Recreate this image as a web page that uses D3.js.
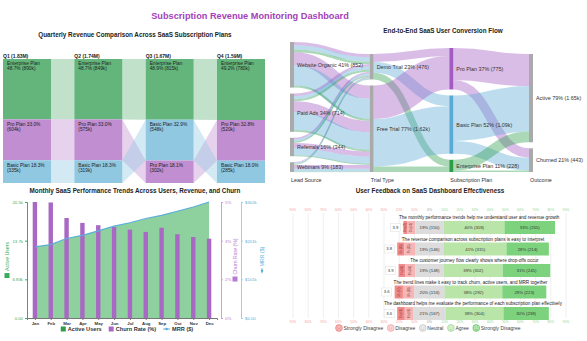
<!DOCTYPE html>
<html>
<head>
<meta charset="utf-8">
<script src="https://cdn.jsdelivr.net/npm/d3@7"></script>
<style>
body { margin: 0; background: #fff; }
svg text { font-family: "Liberation Sans", Arial, sans-serif; }
</style>
</head>
<body>
<script>
// ---- quarterly revenue ($k) ----
const quarters = ["Q1", "Q2", "Q3", "Q4"];
const plans = ["Enterprise Plan", "Pro Plan", "Basic Plan"];
const enterpriseRevenue = [890, 849, 815, 780];
const proRevenue = [604, 575, 302, 520];
const basicRevenue = [335, 319, 548, 285];

// ---- monthly trends ----
const months = ["Jan", "Feb", "Mar", "Apr", "May", "Jun", "Jul", "Aug", "Sep", "Oct", "Nov", "Dec"];
const activeUsers = [12550, 12960, 14020, 14620, 15380, 16200, 16850, 17550, 18140, 18900, 19620, 20500];
const churnRate = [5.0, 4.98, 4.31, 4.1, 4.0, 3.92, 3.81, 3.71, 3.89, 3.61, 3.49, 3.42];
const mrr = [185, 191, 207, 215, 227, 239, 248, 259, 267, 278, 289, 302]; // $k

// ---- conversion flow ----
const stageNames = ["Lead Source", "Trial Type", "Subscription Plan", "Outcome"];
const leadSources = ["Website Organic", "Paid Ads", "Referrals", "Webinars"];
const trialTypes = ["Demo Trial", "Free Trial"];
const subscriptionPlans = ["Pro Plan", "Basic Plan", "Enterprise Plan"];
const outcomes = ["Active", "Churned"];
// [lead][trial][plan]
const leadTrialFlows = [
  [[60, 80, 50], [250, 372, 40]],
  [[45, 60, 36], [210, 330, 33]],
  [[30, 40, 25], [95, 135, 19]],
  [[15, 20, 15], [70, 53, 10]]
];
// [trial][plan]
const trialPlanFlows = [[150, 200, 126], [625, 890, 102]];
// [plan][outcome]
const planOutcomeFlows = [[600, 175], [850, 240], [200, 28]];

// ---- feedback survey ----
const likertQuestions = [
  "The monthly performance trends help me understand user and revenue growth",
  "The revenue comparison across subscription plans is easy to interpret",
  "The customer journey flow clearly shows where drop-offs occur",
  "The trend lines make it easy to track churn, active users, and MRR together",
  "The dashboard helps me evaluate the performance of each subscription plan effectively"
];
const stronglyDisagree = [22, 35, 35, 42, 40];
const disagree = [40, 55, 50, 58, 46];
const neutral = [150, 146, 148, 153, 167];
const agree = [318, 315, 302, 292, 304];
const stronglyAgree = [265, 214, 245, 223, 238];
const meanScores = [3.9, 3.8, 3.9, 3.6, 3.6];
const likertLegend = ["Strongly Disagree", "Disagree", "Neutral", "Agree", "Strongly Disagree"];

const svg = d3.select("body").append("svg")
    .attr("width", 587)
    .attr("height", 341)
    .style("display", "block");

svg.append("text")
    .attr("x", 250).attr("y", 19)
    .attr("text-anchor", "middle")
    .attr("font-size", 9.2).attr("font-weight", "bold")
    .attr("fill", "#a43fb8")
    .text("Subscription Revenue Monitoring Dashboard");

function panelTitle(x, y, txt) {
  svg.append("text").attr("x", x).attr("y", y)
      .attr("text-anchor", "middle").attr("dy", "0.35em")
      .attr("font-size", 6.3).attr("font-weight", "bold").attr("fill", "#222")
      .text(txt);
}

// =============== quarterly ribbon chart ===============
panelTitle(135, 35, "Quarterly Revenue Comparison Across SaaS Subscription Plans");

var revenueByPlan = {"Enterprise Plan": enterpriseRevenue, "Pro Plan": proRevenue, "Basic Plan": basicRevenue};
var planColor = d3.scaleOrdinal().domain(plans).range(["#63b57c", "#c08ed1", "#90c8e1"]);
var qx = d3.scaleBand().domain(quarters).range([3, 265]).paddingInner(0.327);
var qy = d3.scaleLinear().domain([0, 1]).range([59, 183]);

var qCols = quarters.map(function(q, i) {
  var total = d3.sum(plans, p => revenueByPlan[p][i]);
  var segs = plans.map(p => ({plan: p, value: revenueByPlan[p][i]}))
      .sort((a, b) => b.value - a.value);
  var acc = 0;
  segs.forEach(s => {
    s.y0 = qy(acc / total); acc += s.value; s.y1 = qy(acc / total); s.share = s.value / total;
  });
  return {q: q, total: total, segs: segs, x0: qx(q), x1: qx(q) + qx.bandwidth()};
});

var qg = svg.append("g");
for (let i = 0; i < qCols.length - 1; i++) {
  let c = qCols[i], n = qCols[i + 1];
  plans.forEach(p => {
    let a = c.segs.find(s => s.plan === p), b = n.segs.find(s => s.plan === p);
    qg.append("path")
        .attr("d", d3.line()([[c.x1, a.y0], [n.x0, b.y0], [n.x0, b.y1], [c.x1, a.y1]]) + "Z")
        .attr("fill", planColor(p)).attr("fill-opacity", 0.4);
  });
}

var fmtM = v => d3.format(".3s")(v * 1000);
qCols.forEach(c => {
  qg.append("text").attr("x", c.x0).attr("y", 57.5)
      .attr("font-size", 5).attr("font-weight", "bold").attr("fill", "#222")
      .text(`${c.q} (${fmtM(c.total)})`);
  c.segs.forEach(s => {
    qg.append("rect").attr("x", c.x0).attr("y", s.y0)
        .attr("width", c.x1 - c.x0).attr("height", s.y1 - s.y0)
        .attr("fill", planColor(s.plan));
    var words = `${s.plan} ${(s.share * 100).toFixed(1)}% (${s.value}k)`.split(" ");
    var lines = [], cur = "";
    var t = qg.append("text").attr("font-size", 4.8).attr("fill", "#222");
    words.forEach(w => {
      var trial = cur ? cur + " " + w : w;
      t.text(trial);
      if (cur && t.node().getComputedTextLength() > 41) { lines.push(cur); cur = w; }
      else cur = trial;
    });
    lines.push(cur);
    t.text(null);
    lines.forEach((l, k) => {
      t.append("tspan").attr("x", c.x0 + 4).attr("y", s.y0 + 6.3 + k * 5).text(l);
    });
  });
});

// =============== monthly trends ===============
panelTitle(135, 191, "Monthly SaaS Performance Trends Across Users, Revenue, and Churn");

var green = "#3aaa5c", purple = "#b77ccf", blue = "#5aaed8";
var mx = d3.scalePoint().domain(months).range([27, 217]).padding(0.5);
var yUsers = d3.scaleLinear().domain([0, d3.max(activeUsers)]).range([318, 202]);
var yChurn = d3.scaleLinear().domain([0, d3.max(churnRate)]).range([318, 202]);
var yMrr = d3.scaleLinear().domain([0, d3.max(mrr)]).range([318, 202]);
var mg = svg.append("g");

mg.append("path")
    .datum(months)
    .attr("d", d3.area().x(m => mx(m)).y0(318).y1((m, i) => yUsers(activeUsers[i])))
    .attr("fill", "#8fd19e");

mg.selectAll(".bar").data(months).enter().append("rect")
    .attr("x", m => mx(m) - 2.2).attr("width", 4.4)
    .attr("y", (m, i) => yChurn(churnRate[i]))
    .attr("height", (m, i) => 318 - yChurn(churnRate[i]))
    .attr("fill", "#a868c3");

mg.append("path")
    .datum(months)
    .attr("d", d3.line().x(m => mx(m)).y((m, i) => yMrr(mrr[i])))
    .attr("fill", "none").attr("stroke", blue).attr("stroke-width", 1.2);

function styleAxis(sel, col, txtCol) {
  sel.selectAll("path,line").attr("stroke", col);
  sel.selectAll("text").attr("fill", txtCol || col).attr("font-size", 4.3);
}
var thirds = s => [0, 1, 2, 3].map(k => s.domain()[1] * k / 3);
mg.append("g").attr("transform", "translate(27,0)")
    .call(d3.axisLeft(yUsers).tickValues(thirds(yUsers)).tickFormat(d3.format(".3s")).tickSize(2).tickPadding(2))
    .call(styleAxis, green);
mg.append("g").attr("transform", "translate(221,0)")
    .call(d3.axisRight(yChurn).tickValues(thirds(yChurn)).tickFormat(v => d3.format(".0%")(v / 100)).tickSize(2).tickPadding(2))
    .call(styleAxis, "#c9a3da", purple);
mg.append("g").attr("transform", "translate(241,0)")
    .call(d3.axisRight(yMrr).tickValues(thirds(yMrr)).tickFormat(v => "$" + d3.format(".3s")(v * 1000)).tickSize(2).tickPadding(2))
    .call(styleAxis, "#9fd0ea", blue);
var xAx = mg.append("g").attr("transform", "translate(0,318)")
    .call(d3.axisBottom(mx).tickSize(2).tickPadding(1.5));
xAx.selectAll("path,line").attr("stroke", "#777");
xAx.selectAll("text").attr("font-size", 4.3).attr("font-weight", "bold").attr("fill", "#333");

function axisTitle(x, label, col, icon) {
  var g = mg.append("g").attr("transform", `translate(${x},260) rotate(-90)`);
  var t = g.append("text").attr("font-size", 5.2).attr("fill", col).attr("dy", "0.35em").text(label);
  var w = t.node().getComputedTextLength() + 7;
  t.attr("x", -w / 2 + 7);
  if (icon === "line") {
    g.append("line").attr("x1", -w / 2).attr("x2", -w / 2 + 5).attr("stroke", col).attr("stroke-width", 1);
    g.append("circle").attr("cx", -w / 2 + 2.5).attr("r", 1.2).attr("fill", col);
  } else {
    g.append("rect").attr("x", -w / 2).attr("y", -2.5).attr("width", 5).attr("height", 5).attr("fill", col);
  }
}
axisTitle(7, "Active Users", green, "rect");
axisTitle(235, "Churn Rate (%)", purple, "rect");
axisTitle(262, "MRR ($)", blue, "line");

var legItems = [["Active Users", "#2e9d4a", "rect"], ["Churn Rate (%)", "#a868c3", "rect"], ["MRR ($)", blue, "line"]];
var lg = mg.append("g");
var lxPos = 0;
legItems.forEach(it => {
  var gi = lg.append("g").attr("transform", `translate(${lxPos},0)`);
  if (it[2] === "rect") gi.append("rect").attr("y", -2.5).attr("width", 5).attr("height", 5).attr("fill", it[1]);
  else {
    gi.append("line").attr("x2", 7).attr("stroke", it[1]).attr("stroke-width", 1);
    gi.append("circle").attr("cx", 3.5).attr("r", 1.3).attr("fill", it[1]);
  }
  var t = gi.append("text").attr("x", it[2] === "rect" ? 7 : 9).attr("dy", "0.35em")
      .attr("font-size", 5.6).attr("font-weight", "bold").attr("fill", "#333").text(it[0]);
  lxPos += (it[2] === "rect" ? 7 : 9) + t.node().getComputedTextLength() + 7;
});
lg.attr("transform", `translate(${127 - (lxPos - 7) / 2},329)`);

// =============== conversion sankey ===============
panelTitle(443, 31, "End-to-End SaaS User Conversion Flow");

var flowColor = ["#a35bc4", "#5aa9d6", "#2e9d4a"];
var sx = d3.scalePoint().domain(stageNames).range([290, 529]);
var nodeW = 4, sTop = 42, sBottom = 172, sPad = 6;
var columns = [
  {names: leadSources, values: leadSources.map((_, i) => d3.sum(leadTrialFlows[i].flat()))},
  {names: trialTypes, values: trialTypes.map((_, j) => d3.sum(trialPlanFlows[j]))},
  {names: subscriptionPlans, values: subscriptionPlans.map((_, k) => d3.sum(planOutcomeFlows[k]))},
  {names: outcomes, values: outcomes.map((_, m) => d3.sum(planOutcomeFlows, r => r[m]))}
];
var ky = d3.min(columns, c => (sBottom - sTop - (c.names.length - 1) * sPad) / d3.sum(c.values));
var nodes = columns.map((c, ci) => {
  var total = d3.sum(c.values);
  var y = sBottom - (total * ky + (c.names.length - 1) * sPad);
  return c.names.map((nm, ni) => {
    var nd = {name: nm, col: ci, idx: ni, value: c.values[ni], share: c.values[ni] / total,
      x0: sx(stageNames[ci]), y0: y, y1: y + c.values[ni] * ky};
    nd.x1 = nd.x0 + nodeW;
    y = nd.y1 + sPad;
    return nd;
  });
});

var links = [];
leadTrialFlows.forEach((row, i) => row.forEach((pl, j) => pl.forEach((v, k) =>
  links.push({s: nodes[0][i], t: nodes[1][j], plan: k, value: v}))));
trialPlanFlows.forEach((row, j) => row.forEach((v, k) =>
  links.push({s: nodes[1][j], t: nodes[2][k], plan: k, value: v})));
planOutcomeFlows.forEach((row, k) => row.forEach((v, m) =>
  links.push({s: nodes[2][k], t: nodes[3][m], plan: k, value: v})));

nodes.flat().forEach(nd => {
  var outs = links.filter(l => l.s === nd).sort((a, b) => a.t.idx - b.t.idx || a.plan - b.plan);
  var off = nd.y0;
  outs.forEach(l => { l.w = l.value * ky; l.sy = off + l.w / 2; off += l.w; });
  var ins = links.filter(l => l.t === nd).sort((a, b) => a.s.idx - b.s.idx || a.plan - b.plan);
  off = nd.y0;
  ins.forEach(l => { l.ty = off + l.value * ky / 2; off += l.value * ky; });
});

var sg = svg.append("g");
sg.append("g").selectAll("path").data(links).enter().append("path")
    .attr("d", d3.linkHorizontal().source(l => [l.s.x1, l.sy]).target(l => [l.t.x0, l.ty]))
    .attr("fill", "none")
    .attr("stroke", l => flowColor[l.plan])
    .attr("stroke-opacity", 0.4)
    .attr("stroke-width", l => Math.max(0.5, l.w));

sg.append("g").selectAll("rect").data(nodes.flat()).enter().append("rect")
    .attr("x", d => d.x0).attr("y", d => d.y0)
    .attr("width", nodeW).attr("height", d => d.y1 - d.y0)
    .attr("fill", d => d.col === 2 ? flowColor[d.idx] : "#aaa");

var fmtCount = v => v >= 1000 ? d3.format(".3s")(v) : String(v);
sg.append("g").selectAll("text").data(nodes.flat()).enter().append("text")
    .attr("x", d => d.x1 + 3).attr("y", d => (d.y0 + d.y1) / 2).attr("dy", "0.35em")
    .attr("font-size", 5.4).attr("fill", "#333")
    .text(d => `${d.name} ${d3.format(".0%")(d.share)} (${fmtCount(d.value)})`);

sg.append("g").selectAll("text").data(stageNames).enter().append("text")
    .attr("x", d => sx(d) + 1).attr("y", 182)
    .attr("font-size", 5.4).attr("fill", "#333")
    .text(d => d);

// =============== feedback likert ===============
panelTitle(430, 191, "User Feedback on SaaS Dashboard Effectiveness");

var likertColors = ["#f28b8b", "#f6b6b6", "#dcdcdc", "#b9e6a8", "#7dd37d"];
var lx = d3.scaleLinear().domain([-0.9, 0.9]).range([293, 566]);
var ly = d3.scaleBand().domain(d3.range(likertQuestions.length)).range([214, 321.5]);
var fg = svg.append("g");
var gridVals = d3.range(-9, 10).map(v => v / 10);
var tickCol = v => v < 0 ? "#f4a3a3" : v > 0 ? "#93d993" : "#999";
fg.append("g").selectAll("line").data(gridVals).enter().append("line")
    .attr("x1", v => lx(v)).attr("x2", v => lx(v)).attr("y1", 213).attr("y2", 318)
    .attr("stroke", "#ebebeb").attr("stroke-width", 0.8);
[210, 322].forEach(yy => {
  fg.append("g").selectAll("text").data(gridVals).enter().append("text")
      .attr("x", v => lx(v)).attr("y", yy).attr("dy", "0.35em")
      .attr("text-anchor", "middle").attr("font-size", 3.4).attr("fill", tickCol)
      .text(v => Math.round(Math.abs(v) * 100) + "%");
});

likertQuestions.forEach((q, i) => {
  var counts = [stronglyDisagree[i], disagree[i], neutral[i], agree[i], stronglyAgree[i]];
  var total = d3.sum(counts);
  var shares = counts.map(c => c / total);
  var start = -(shares[0] + shares[1] + shares[2] / 2);
  var by = ly(i) + 7, bh = 13;
  var row = fg.append("g");
  var acc = start;
  shares.forEach((s, k) => {
    var xa = lx(acc), xb = lx(acc + s);
    row.append("rect").attr("x", xa).attr("y", by).attr("width", xb - xa).attr("height", bh)
        .attr("fill", likertColors[k]);
    var lbl = `${Math.round(s * 100)}% (${counts[k]})`;
    if (k < 2) {
      row.append("text").attr("transform", `translate(${(xa + xb) / 2},${by + bh / 2}) rotate(-90)`)
          .attr("text-anchor", "middle").attr("dy", "0.35em")
          .attr("font-size", 2.6).attr("fill", "#7a2a2a").text(lbl);
    } else {
      row.append("text").attr("x", (xa + xb) / 2).attr("y", by + bh / 2).attr("dy", "0.35em")
          .attr("text-anchor", "middle").attr("font-size", 4.3).attr("fill", "#333").text(lbl);
    }
    acc += s;
  });
  var x0 = lx(start), x1 = lx(acc);
  row.append("rect").attr("x", x0 - 13).attr("y", by + 2.5).attr("width", 10).attr("height", 8)
      .attr("fill", "#fff").attr("stroke", "#ddd").attr("stroke-width", 0.5);
  row.append("text").attr("x", x0 - 8).attr("y", by + bh / 2).attr("dy", "0.35em")
      .attr("text-anchor", "middle").attr("font-size", 4.2).attr("fill", "#333")
      .text(meanScores[i].toFixed(1));
  row.append("text").attr("x", (x0 + x1) / 2).attr("y", ly(i) + 3.5).attr("dy", "0.35em")
      .attr("text-anchor", "middle").attr("font-size", 4.6).attr("fill", "#222")
      .attr("stroke", "#fff").attr("stroke-width", 1.2).attr("paint-order", "stroke")
      .text(q);
});

var flg = fg.append("g");
var fx = 0;
var faceStroke = ["#e06a6a", "#ec9a9a", "#bbb", "#8fcf8f", "#4fb54f"];
likertLegend.forEach((lab, k) => {
  var gi = flg.append("g").attr("transform", `translate(${fx},0)`);
  gi.append("circle").attr("cx", 3.5).attr("r", 3.4).attr("fill", likertColors[k]).attr("fill-opacity", 0.6)
      .attr("stroke", faceStroke[k]).attr("stroke-width", 0.6);
  gi.append("circle").attr("cx", 2.3).attr("cy", -0.9).attr("r", 0.4).attr("fill", faceStroke[k]);
  gi.append("circle").attr("cx", 4.7).attr("cy", -0.9).attr("r", 0.4).attr("fill", faceStroke[k]);
  var curve = k < 2 ? -1 : k === 2 ? 0 : 1;
  gi.append("path").attr("d", `M2,1.3 Q3.5,${1.3 + curve * 1.4} 5,1.3`)
      .attr("fill", "none").attr("stroke", faceStroke[k]).attr("stroke-width", 0.5);
  var t = gi.append("text").attr("x", 8).attr("dy", "0.35em")
      .attr("font-size", 5).attr("fill", "#444").text(lab);
  fx += 8 + t.node().getComputedTextLength() + 4;
});
flg.attr("transform", `translate(${428 - (fx - 4) / 2},328)`);
</script>
</body>
</html>
